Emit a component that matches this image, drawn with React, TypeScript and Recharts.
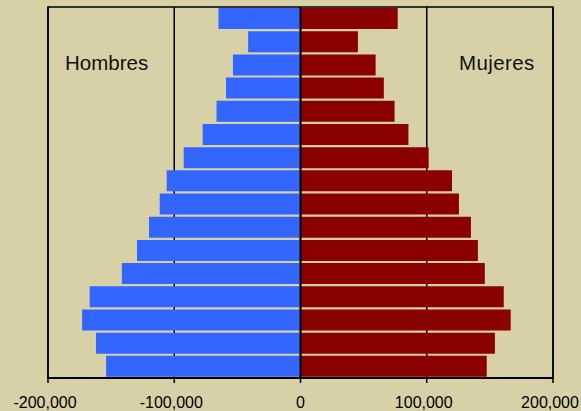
import React from "react";
import {
  BarChart,
  Bar,
  XAxis,
  YAxis,
  CartesianGrid,
  ReferenceLine,
  ReferenceArea,
} from "recharts";

// age groups, youngest first (drawn bottom to top)
const ageGroups = [
  "0-4", "5-9", "10-14", "15-19", "20-24", "25-29", "30-34", "35-39",
  "40-44", "45-49", "50-54", "55-59", "60-64", "65-69", "70-74", "75+",
];
const hombres = [
  154000, 162000, 173000, 167000, 141500, 129500, 120000, 111500,
  106000, 92500, 77500, 66500, 59000, 53500, 41500, 65000,
];
const mujeres = [
  147500, 154000, 166500, 161000, 146000, 140500, 135000, 125500,
  120000, 101500, 85500, 74500, 66000, 59500, 45500, 77000,
];
const xTicks = [-200000, -100000, 0, 100000, 200000];

const BG = "#D8D1A7";
const FONT = "'Liberation Sans', Arial, sans-serif";

const data = ageGroups.map((age, i) => ({
  age,
  hombres: -hombres[i],
  mujeres: mujeres[i],
}));

const fmt = (v: number) => (v < 0 ? "-" : "") + Math.abs(v).toLocaleString("en-US");

// @ts-ignore
const XTick = ({ x, y, payload }) => (
  <text
    x={x + (payload.value === 0 ? 0 : -3)}
    y={y + 11.5}
    textAnchor="middle"
    fontSize={16}
    fontFamily={FONT}
    fill="#000"
  >
    {fmt(payload.value)}
  </text>
);

const App = () => {
  return (
    <div
      style={{
        position: "absolute",
        left: 0,
        top: 0,
        width: 581,
        height: 411,
        background: BG,
        fontFamily: FONT,
      }}
    >
      <BarChart
        width={581}
        height={411}
        data={data}
        layout="vertical"
        stackOffset="sign"
        barCategoryGap={1}
        margin={{ top: 7, right: 28, bottom: 3, left: 48 }}
      >
        <CartesianGrid vertical horizontal={false} stroke="#000" strokeWidth={1.5} />
        <XAxis
          type="number"
          dataKey="mujeres"
          domain={[-200000, 200000]}
          ticks={xTicks}
          height={30}
          axisLine={{ stroke: "#000", strokeWidth: 2 }}
          tickLine={{ stroke: "#000", strokeWidth: 1.5 }}
          tickSize={5}
          tickMargin={13}
          // @ts-ignore
          tick={<XTick />}
        />
        <YAxis type="category" dataKey="age" reversed hide />
        <Bar dataKey="hombres" stackId="a" fill="#3366FF" isAnimationActive={false} />
        <Bar dataKey="mujeres" stackId="a" fill="#8B0000" isAnimationActive={false} />
        <ReferenceArea
          x1={-200000}
          x2={200000}
          fill="none"
          stroke="#000"
          strokeWidth={1.5}
        />
        <ReferenceLine x={0} stroke="#000" strokeWidth={2} />
      </BarChart>
      <svg
        width={581}
        height={411}
        style={{ position: "absolute", left: 0, top: 0, pointerEvents: "none" }}
      >
        <text x={65} y={70} fontSize={20.5} fontFamily={FONT} fill="#111">
          Hombres
        </text>
        <text x={459} y={70} fontSize={20.5} fontFamily={FONT} fill="#111" letterSpacing={0.4}>
          Mujeres
        </text>
      </svg>
    </div>
  );
};

export default App;
